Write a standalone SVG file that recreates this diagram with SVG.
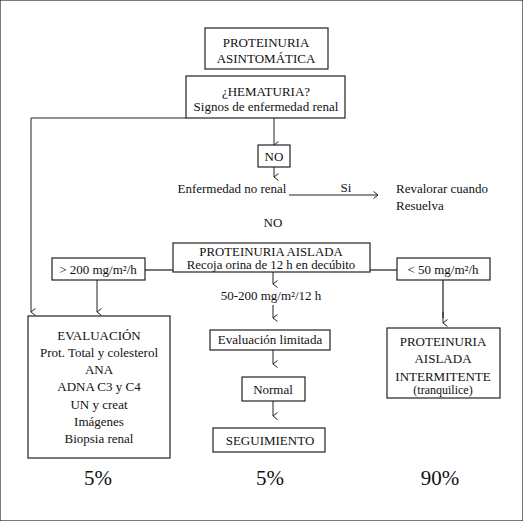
<svg xmlns="http://www.w3.org/2000/svg" width="523" height="521" viewBox="0 0 523 521" font-family="Liberation Serif">
<defs>
<marker id="arr" markerUnits="userSpaceOnUse" markerWidth="10" markerHeight="10" refX="5" refY="8" orient="auto" viewBox="0 0 10 10">
<path d="M1.5,3.5 L5,8 L8.5,3.5" fill="none" stroke="#222" stroke-width="1"/>
</marker>
<marker id="arrR" markerUnits="userSpaceOnUse" markerWidth="10" markerHeight="10" refX="8" refY="5" orient="0" viewBox="0 0 10 10">
<path d="M3.5,1.5 L8,5 L3.5,8.5" fill="none" stroke="#222" stroke-width="1"/>
</marker>
</defs>
<style>
rect{fill:#fff;stroke:#222;stroke-width:1.2}
text{font-family:'Liberation Serif',serif;fill:#111;font-size:13px;text-anchor:middle}
.l{text-anchor:start}
.c{stroke:#222;stroke-width:1;fill:none}
.g{stroke:#777;stroke-width:2;fill:none}
.p{font-size:21px}
.s{font-size:12px}
.t{font-size:12.8px}
</style>
<rect width="523" height="521" fill="#fff" stroke="none"/>
<g id="connectors">
<path class="c" d="M186,118 H31 V312" marker-end="url(#arr)"/>
<path class="c" d="M274,118 V145" marker-end="url(#arr)"/>
<path class="c" d="M274,167 V177" marker-end="url(#arr)"/>
<path class="c" d="M289,195 H378" marker-end="url(#arrR)"/>
<path class="g" d="M145,270 H173"/>
<path class="g" d="M370,270 H397"/>
<path class="c" d="M97,280 V312" marker-end="url(#arr)"/>
<path class="c" d="M273,272 V284" marker-end="url(#arr)"/>
<path class="c" d="M273,305 V318" marker-end="url(#arr)"/>
<path class="g" d="M443,280 V318"/>
<path class="c" d="M443,312 V323" marker-end="url(#arr)"/>
<path class="c" d="M273,350 V364" marker-end="url(#arr)"/>
<path class="c" d="M273,401 V416" marker-end="url(#arr)"/>
</g>
<g id="n1"><rect x="205" y="28" width="123" height="41"/><text x="266" y="47">PROTEINURIA</text><text x="266" y="63">ASINTOMÁTICA</text></g>
<g id="n2"><rect x="186" y="76" width="159" height="42"/><text x="266" y="96">¿HEMATURIA?</text><text x="266" y="111">Signos de enfermedad renal</text></g>
<g id="n3"><rect x="258" y="145" width="32" height="22"/><text x="274" y="161">NO</text></g>
<g id="n4"><text x="232" y="193">Enfermedad no renal</text><text x="346" y="192">Si</text></g>
<g id="n5"><text class="l" x="396" y="193">Revalorar cuando</text><text class="l" x="396" y="210">Resuelva</text></g>
<g id="n6"><text x="273" y="227">NO</text></g>
<g id="n7"><rect x="173" y="243" width="197" height="29"/><text class="t" x="271" y="256">PROTEINURIA AISLADA</text><text class="t" x="271" y="269">Recoja orina de  12 h en decúbito</text></g>
<g id="n8"><rect x="52" y="258" width="93" height="22"/><text x="98" y="274">&gt; 200 mg/m²/h</text></g>
<g id="n9"><rect x="397" y="258" width="93" height="22"/><text x="443" y="274">&lt; 50 mg/m²/h</text></g>
<g id="n10"><text x="271" y="300">50-200 mg/m²/12 h</text></g>
<g id="n11"><rect x="28" y="316" width="142" height="142"/>
<text x="99" y="340">EVALUACIÓN</text><text x="99" y="357">Prot. Total y colesterol</text><text x="99" y="374">ANA</text><text x="99" y="391">ADNA C3 y C4</text><text x="99" y="409">UN y creat</text><text x="99" y="426">Imágenes</text><text x="99" y="443">Biopsia renal</text></g>
<g id="n12"><rect x="210" y="330" width="120" height="20"/><text x="270" y="344">Evaluación limitada</text></g>
<g id="n13"><rect x="242" y="377" width="63" height="24"/><text x="273" y="394">Normal</text></g>
<g id="n14"><rect x="213" y="428" width="112" height="24"/><text x="270" y="445">SEGUIMIENTO</text></g>
<g id="n15"><rect x="387" y="328" width="113" height="70"/><text x="443" y="346">PROTEINURIA</text><text x="443" y="363">AISLADA</text><text x="443" y="381">INTERMITENTE</text><text class="s" x="443" y="394">(tranquilice)</text></g>
<g id="pct"><text class="p" x="98" y="485">5%</text><text class="p" x="270" y="485">5%</text><text class="p" x="440" y="485">90%</text></g>
</svg>
